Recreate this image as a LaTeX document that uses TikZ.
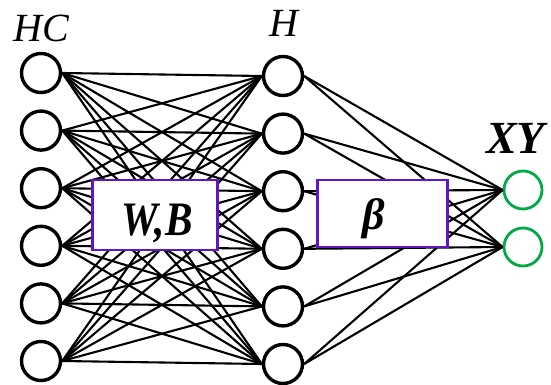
\documentclass[tikz,border=0pt]{standalone}
\usepackage{fontspec}
\setmainfont{Liberation Serif}
\definecolor{boxpurple}{RGB}{100,20,200}
\definecolor{outgreen}{RGB}{0,170,70}
\begin{document}
\begin{tikzpicture}[x=1pt,y=-1pt,
  neuron/.style={circle,draw=black,line width=3.4pt,minimum size=39pt,inner sep=0pt},
  outneuron/.style={circle,draw=outgreen,line width=2.8pt,minimum size=38pt,inner sep=0pt},
  link/.style={line width=2.1pt,black},
  wbox/.style={draw=boxpurple,line width=2.6pt,fill=white,inner sep=0pt},
  lab/.style={font=\fontsize{40}{48}\selectfont\itshape,inner sep=0pt,anchor=base}]
\useasboundingbox (0,0) rectangle (551,385);
\foreach \i in {1,...,6}{
  \node[neuron] (hc\i) at (41,{73+57.6*(\i-1)}) {};
  \node[neuron] (h\i) at (283,{76+57.6*(\i-1)}) {};
}
\node[outneuron] (xy1) at (523,190) {};
\node[outneuron] (xy2) at (523,247) {};
\foreach \i in {1,...,6}{
  \foreach \j in {1,...,6}{
    \draw[link] (hc\i.east) -- (h\j.west);
  }
  \draw[link] (h\i.east) -- (xy1.west);
  \draw[link] (h\i.east) -- (xy2.west);
}
\node[wbox,minimum width=125pt,minimum height=70pt] (wb) at (155,215) {};
\node[wbox,minimum width=130pt,minimum height=67pt] (beta) at (382.5,213.5) {};
\node[lab,font=\fontsize{48}{54}\selectfont\bfseries\itshape] (wbl) at (157,235) {\scalebox{0.86}[1]{W,B}};
\node[lab,font=\fontsize{44}{50}\selectfont\bfseries\itshape] (betal) at (374,229) {β};
\node[lab] (hcl) at (41,42) {HC};
\node[lab] (hl) at (284,37) {H};
\node[lab,font=\fontsize{46}{52}\selectfont\bfseries\itshape,anchor=base west] (xyl) at (486,153) {XY};
\end{tikzpicture}
\end{document}
